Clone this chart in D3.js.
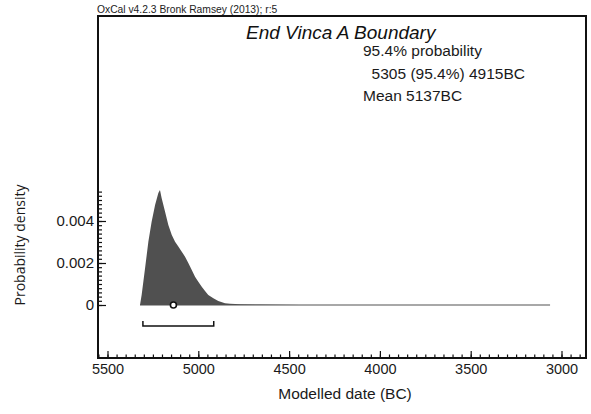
<!DOCTYPE html>
<html><head><meta charset="utf-8">
<script src="https://cdn.jsdelivr.net/npm/d3@7"></script>
<style>html,body{margin:0;padding:0;background:#fff;}svg{display:block;}</style>
</head><body>
<svg id="chart" width="591" height="414"></svg>
<script>
// ---- data ----
const years = [5321, 5312, 5293, 5275, 5257, 5238, 5220, 5211, 5202, 5183, 5165, 5146, 5128, 5110, 5091, 5073, 5055, 5036, 5018, 5000, 4981, 4963, 4945, 4917, 4890, 4853, 4825, 4770, 4661, 4440];
const density = [0, 0.00048, 0.00176, 0.00301, 0.00397, 0.00476, 0.00533, 0.00548, 0.0051, 0.00444, 0.00381, 0.00333, 0.00301, 0.00278, 0.00254, 0.0023, 0.002, 0.00167, 0.00135, 0.00111, 0.00087, 0.00067, 0.00048, 0.00032, 0.00019, 0.00008, 0.00006, 0.00004, 0.00002, 0];
const tailEnd = 3063;
const range95 = [5305, 4915];
const meanYear = 5137;
const xTicks = [5500, 5000, 4500, 4000, 3500, 3000];
const xTickLabels = ["5500", "5000", "4500", "4000", "3500", "3000"];
const yTicks = [0, 0.002, 0.004];
const yTickLabels = ["0", "0.002", "0.004"];
const yMinorMax = 0.0054;
const header = "OxCal v4.2.3 Bronk Ramsey (2013); r:5";
const title = "End Vinca A Boundary";
const infoLines = ["95.4% probability", "  5305 (95.4%) 4915BC", "Mean 5137BC"];
const xLabel = "Modelled date (BC)";
const yLabel = "Probability density";

// ---- layout ----
const svg = d3.select("#chart");
const frame = {left: 98, right: 586, top: 16, bottom: 358};
const x = d3.scaleLinear().domain([5500, 3000]).range([107.5, 561.5]);
const y = d3.scaleLinear().domain([0, 0.004]).range([305, 221]);
const font = "'Liberation Sans', Arial, sans-serif";

// distribution tail baseline
svg.append("line")
  .attr("x1", x(years[0])).attr("x2", x(tailEnd))
  .attr("y1", y(0)).attr("y2", y(0))
  .attr("stroke", "#a8a8a8").attr("stroke-width", 2);

// distribution
const pts = years.map((d, i) => [d, density[i]]);
svg.append("path")
  .datum(pts)
  .attr("d", d3.area().x(d => x(d[0])).y0(y(0)).y1(d => y(d[1])))
  .attr("fill", "#505050");

// 95.4% bracket
const by = y(0) + 21;
svg.append("path")
  .attr("d", `M${x(range95[0])},${by - 5}V${by}H${x(range95[1])}V${by - 5}`)
  .attr("fill", "none").attr("stroke", "#111").attr("stroke-width", 1.5);

// mean circle
svg.append("circle")
  .attr("cx", x(meanYear)).attr("cy", y(0)).attr("r", 3)
  .attr("fill", "#fff").attr("stroke", "#111").attr("stroke-width", 1.6);

// x axis: minor ticks
const xMinor = d3.range(5550, 2850, -50);
const gxm = svg.append("g").attr("transform", `translate(0,${frame.bottom})`)
  .call(d3.axisBottom(x).tickValues(xMinor).tickSize(-3.5).tickFormat(""));
gxm.select(".domain").remove();
const gx = svg.append("g").attr("transform", `translate(0,${frame.bottom})`)
  .call(d3.axisBottom(x).tickValues(xTicks).tickSize(-7).tickPadding(6)
    .tickFormat((d, i) => xTickLabels[i]));
gx.select(".domain").remove();
gx.selectAll("text").attr("font-family", font).attr("font-size", 14.5).attr("fill", "#1a1a1a");

// y axis
const yMinor = d3.range(0, yMinorMax + 1e-9, 0.0002);
const gym = svg.append("g").attr("transform", `translate(${frame.left},0)`)
  .call(d3.axisLeft(y).tickValues(yMinor).tickSize(-4).tickFormat(""));
gym.select(".domain").remove();
const gy = svg.append("g").attr("transform", `translate(${frame.left},0)`)
  .call(d3.axisLeft(y).tickValues(yTicks).tickSize(-8).tickPadding(4)
    .tickFormat((d, i) => yTickLabels[i]));
gy.select(".domain").remove();
gy.selectAll("text").attr("font-family", font).attr("font-size", 15).attr("fill", "#1a1a1a");
svg.selectAll(".tick line").attr("stroke", "#111").attr("stroke-width", 1.2);

// frame
svg.append("rect")
  .attr("x", frame.left).attr("y", frame.top)
  .attr("width", frame.right - frame.left).attr("height", frame.bottom - frame.top)
  .attr("fill", "none").attr("stroke", "#111").attr("stroke-width", 2);

// header
svg.append("text").attr("x", frame.left - 1).attr("y", frame.top - 3)
  .attr("font-family", font).attr("font-size", 10.3).attr("fill", "#222").text(header);

// title & info
svg.append("text").attr("x", 246).attr("y", 39)
  .attr("font-family", font).attr("font-size", 19).attr("font-style", "italic")
  .attr("fill", "#111").text(title);
infoLines.forEach((t, i) => {
  svg.append("text").attr("x", 363).attr("y", 56 + i * 22.5)
    .attr("font-family", font).attr("font-size", 15.5).attr("fill", "#1a1a1a")
    .attr("xml:space", "preserve").style("white-space", "pre").text(t);
});

// axis labels
svg.append("text").attr("x", 345).attr("y", 399).attr("text-anchor", "middle")
  .attr("font-family", font).attr("font-size", 15.5).attr("fill", "#1a1a1a").text(xLabel);
svg.append("text").attr("transform", "translate(25,245) rotate(-90)").attr("text-anchor", "middle")
  .attr("font-family", "'Open Sans', sans-serif").attr("font-size", 14).attr("fill", "#1a1a1a").text(yLabel);
</script>
</body></html>
